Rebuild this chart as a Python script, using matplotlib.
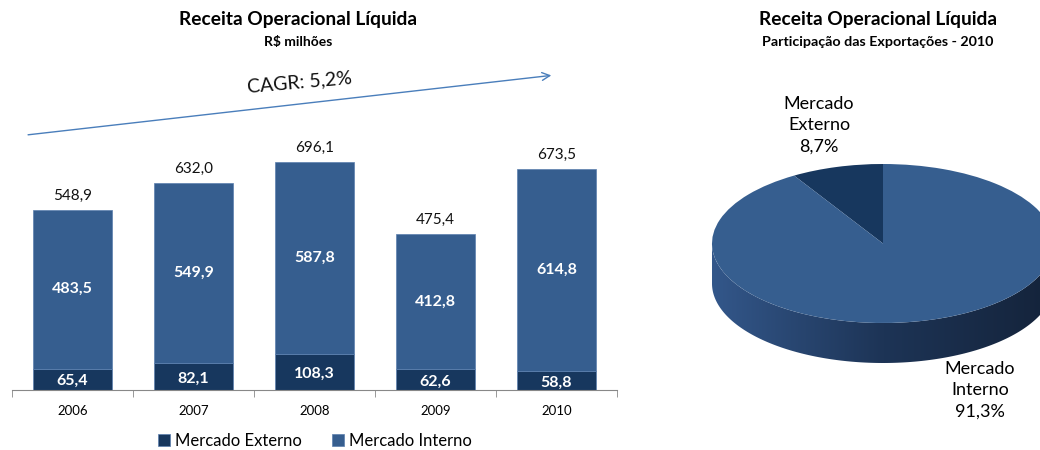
import numpy as np
import matplotlib
matplotlib.use("Agg")
import matplotlib.pyplot as plt
from matplotlib.patches import Polygon
from matplotlib.colors import LinearSegmentedColormap

plt.rcParams['font.family'] = ['Lato', 'DejaVu Sans']

anos = ['2006', '2007', '2008', '2009', '2010']
externo = [65.4, 82.1, 108.3, 62.6, 58.8]
interno = [483.5, 549.9, 587.8, 412.8, 614.8]
totais = [548.9, 632.0, 696.1, 475.4, 673.5]

pie_labels = ['Mercado\nExterno\n8,7%', 'Mercado\nInterno\n91,3%']
pie_shares = [8.7, 91.3]

c_ext = '#17375E'
c_int = '#365E8F'


def br(v):
    return f"{v:.1f}".replace('.', ',')


fig = plt.figure(figsize=(10.4, 4.5), dpi=100)

# --- stacked bars ---
ax = fig.add_axes([12 / 1040, 60 / 450, 605 / 1040, 330 / 450])
x = np.arange(len(anos))
ax.bar(x, externo, width=0.65, color=c_ext, edgecolor='#5b7fae', linewidth=0.5,
       label='Mercado Externo')
ax.bar(x, interno, width=0.65, bottom=externo, color=c_int, edgecolor='#5b7fae',
       linewidth=0.5, label='Mercado Interno')

for i in range(len(anos)):
    ax.text(x[i], externo[i] / 2 - 6, br(externo[i]), ha='center', va='center',
            color='white', fontsize=11.5, fontweight='bold')
    ax.text(x[i], externo[i] + interno[i] / 2, br(interno[i]), ha='center',
            va='center', color='white', fontsize=11.5, fontweight='bold')
    ax.annotate(br(totais[i]), (x[i], totais[i]), xytext=(0, 5),
                textcoords='offset points', ha='center', va='bottom',
                fontsize=11, color='#111111')

ax.set_xlim(-0.5, len(anos) - 0.5)
ax.set_ylim(0, 1006)
ax.set_xticks(x)
ax.set_xticklabels(anos, fontsize=9.5)
ax.set_xticks(np.arange(-0.5, len(anos)), minor=True)
ax.tick_params(axis='x', which='major', length=0, pad=11)
ax.tick_params(axis='x', which='minor', length=5, color='#888888')
ax.set_yticks([])
for s in ['top', 'right', 'left']:
    ax.spines[s].set_visible(False)
ax.spines['bottom'].set_color('#888888')

ax.annotate('', xy=(3.98, 960), xytext=(-0.39, 777),
            arrowprops=dict(arrowstyle='->', color='#4a7ebb', lw=1,
                            mutation_scale=14))
ax.text(1.88, 939, 'CAGR: 5,2%', ha='center', va='center', fontsize=14,
        rotation=5, color='#111111')

fig.text(298 / 1040, 1 - 20 / 450, 'Receita Operacional Líquida', ha='center',
         va='center', fontsize=13.8, fontweight='bold')
fig.text(298 / 1040, 1 - 42 / 450, 'R$ milhões', ha='center', va='center',
         fontsize=10, fontweight='bold')

fig.legend(loc='center', bbox_to_anchor=(315 / 1040, 1 - 441 / 450), ncol=2,
           frameon=False, fontsize=12, handlelength=0.7, handleheight=0.7,
           handletextpad=0.3, columnspacing=1.8)

# --- 3D-ish pie ---
cx, cy, rx, ry, depth = 883, 243.5, 171, 79.5, 40
px0, px1, py0, py1 = 700, 1066, 150, 380
axp = fig.add_axes([px0 / 1040, (450 - py1) / 450, (px1 - px0) / 1040,
                    (py1 - py0) / 450])
d = depth / ry
t = np.linspace(np.pi, 2 * np.pi, 200)
side = np.vstack([np.c_[np.cos(t), np.sin(t)],
                  np.c_[np.cos(t[::-1]), np.sin(t[::-1]) - d]])
poly = Polygon(side, closed=True, facecolor='none', edgecolor='none')
axp.add_patch(poly)
cmap = LinearSegmentedColormap.from_list('side', ['#33578a', '#1d3456', '#14233a'])
grad = np.linspace(0, 1, 256).reshape(1, -1)
im = axp.imshow(grad, cmap=cmap, extent=(-1, 1, -1 - d, 0), aspect='auto',
                zorder=1)
im.set_clip_path(poly)

wedges, _ = axp.pie(pie_shares, colors=[c_ext, c_int], startangle=90,
                    counterclock=True, radius=1,
                    wedgeprops=dict(linewidth=0))
for w in wedges:
    w.set_zorder(2)
axp.set_aspect('auto')
axp.set_xlim((px0 - cx) / rx, (px1 - cx) / rx)
axp.set_ylim((cy - py1) / ry, (cy - py0) / ry)
axp.axis('off')

axp.text((819 - cx) / rx, (cy - 125) / ry, pie_labels[0], ha='center',
         va='center', fontsize=13, linespacing=1.4, clip_on=False)
axp.text((980 - cx) / rx, (cy - 390) / ry, pie_labels[1], ha='center',
         va='center', fontsize=13, linespacing=1.4, clip_on=False)

fig.text(878 / 1040, 1 - 20 / 450, 'Receita Operacional Líquida', ha='center',
         va='center', fontsize=13.8, fontweight='bold')
fig.text(878 / 1040, 1 - 42 / 450, 'Participação das Exportações - 2010',
         ha='center', va='center', fontsize=10.3, fontweight='bold')

fig.savefig('out.png', dpi=100)
